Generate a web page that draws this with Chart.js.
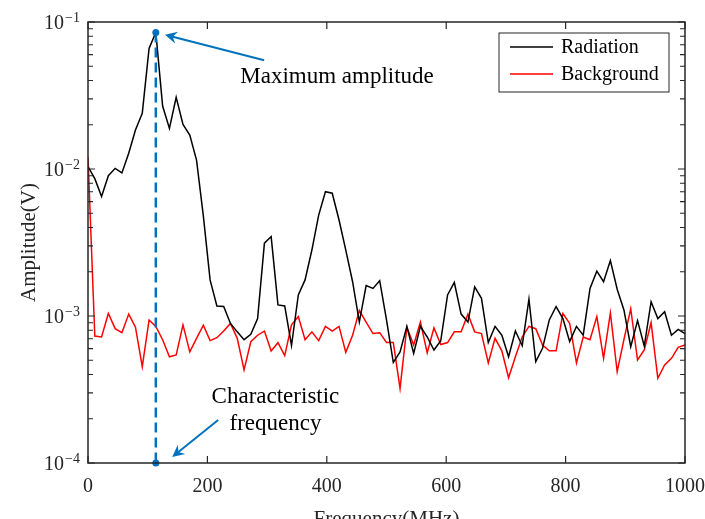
<!DOCTYPE html>
<html>
<head>
<meta charset="utf-8">
<script src="https://cdn.jsdelivr.net/npm/chart.js@4.4.1/dist/chart.umd.min.js"></script>
<style>
  html, body { margin: 0; padding: 0; background: #fff; }
</style>
</head>
<body>
<canvas id="spectrumChart" width="705" height="519"></canvas>
<script>
// --- Data ---
const frequency = [
  0, 11.4, 22.7, 34.1, 45.5, 56.8, 68.2, 79.5, 90.9, 102.3,
  113.6, 125.0, 136.4, 147.7, 159.1, 170.5, 181.8, 193.2, 204.5, 215.9,
  227.3, 238.6, 250.0, 261.4, 272.7, 284.1, 295.5, 306.8, 318.2, 329.5,
  340.9, 352.3, 363.6, 375.0, 386.4, 397.7, 409.1, 420.5, 431.8, 443.2,
  454.5, 465.9, 477.3, 488.6, 500.0, 511.4, 522.7, 534.1, 545.5, 556.8,
  568.2, 579.5, 590.9, 602.3, 613.6, 625.0, 636.4, 647.7, 659.1, 670.5,
  681.8, 693.2, 704.5, 715.9, 727.3, 738.6, 750.0, 761.4, 772.7, 784.1,
  795.5, 806.8, 818.2, 829.5, 840.9, 852.3, 863.6, 875.0, 886.4, 897.7,
  909.1, 920.5, 931.8, 943.2, 954.5, 965.9, 977.3, 988.6, 1000
];

const radiation = [
  0.0104, 0.0086, 0.0065, 0.0090, 0.0101, 0.0094, 0.0128, 0.0184, 0.0239, 0.066,
  0.085, 0.0268, 0.0189, 0.0307, 0.0201, 0.0170, 0.0115, 0.0048, 0.00176, 0.00117,
  0.00116, 0.00089, 0.00078, 0.00069, 0.00075, 0.00096, 0.00313, 0.00347, 0.00119, 0.00117,
  0.00063, 0.00139, 0.00176, 0.00281, 0.00486, 0.00701, 0.00684, 0.0045, 0.00281, 0.00171,
  0.00091, 0.00161, 0.00154, 0.00174, 0.00094, 0.000484, 0.00057, 0.00085, 0.000557, 0.00085,
  0.00072, 0.000587, 0.00068, 0.00139, 0.00169, 0.00103, 0.00091, 0.00158, 0.00132, 0.00066,
  0.00085, 0.00074, 0.000528, 0.00079, 0.000628, 0.0013, 0.000489, 0.000603, 0.00094, 0.00116,
  0.00096, 0.00067, 0.00085, 0.00074, 0.00154, 0.00202, 0.00171, 0.00238, 0.00152, 0.0011,
  0.000618, 0.00093, 0.000625, 0.00125, 0.00096, 0.00107, 0.00074, 0.00081, 0.00076
];

const background = [
  0.0121, 0.00073, 0.00072, 0.00104, 0.00082, 0.00077, 0.00103, 0.00084, 0.000452, 0.00094,
  0.00085, 0.00069, 0.000528, 0.000543, 0.00087, 0.00057, 0.000705, 0.000865, 0.00068, 0.000712,
  0.00079, 0.00089, 0.000705, 0.00043, 0.000668, 0.00074, 0.00079, 0.000578, 0.000658, 0.000537,
  0.00087, 0.00099, 0.00069, 0.00078, 0.00068, 0.00085, 0.00079, 0.00085, 0.000566, 0.00074,
  0.00109, 0.00091, 0.00076, 0.00077, 0.00066, 0.00066, 0.000322, 0.00084, 0.000635, 0.00091,
  0.000562, 0.00083, 0.00064, 0.00066, 0.00078, 0.00078, 0.00103, 0.00078, 0.00076, 0.00048,
  0.000705, 0.00058, 0.00038, 0.000528, 0.00072, 0.00085, 0.00082, 0.000635, 0.00058, 0.00058,
  0.00104, 0.00089, 0.00048, 0.00072, 0.00069, 0.00099, 0.000515, 0.00105, 0.000418, 0.00069,
  0.00112, 0.000502, 0.000587, 0.0009, 0.000377, 0.000464, 0.000515, 0.000612, 0.000635
];

const seriesLabels = ["Radiation", "Background"];
const xTickValues = [0, 200, 400, 600, 800, 1000];
const yTickValues = [1e-4, 1e-3, 1e-2, 1e-1];
const yTickExponents = ["-4", "-3", "-2", "-1"];

const frameColor = "#262626";
const noteBlue = "#0072BD";
const serif = "'Liberation Serif', 'Times New Roman', serif";

// arrow with a swept-back head (like matlab's vback2)
function drawArrow(ctx, x0, y0, x1, y1) {
  const ang = Math.atan2(y1 - y0, x1 - x0);
  const len = 12, half = 6, notch = 4;
  const cos = Math.cos(ang), sin = Math.sin(ang);
  const bx = x1 - len * cos, by = y1 - len * sin;
  ctx.beginPath();
  ctx.moveTo(x0, y0);
  ctx.lineTo(x1 - (len - notch) * cos, y1 - (len - notch) * sin);
  ctx.stroke();
  ctx.beginPath();
  ctx.moveTo(x1, y1);
  ctx.lineTo(bx + half * sin, by - half * cos);
  ctx.lineTo(x1 - (len - notch) * cos, y1 - (len - notch) * sin);
  ctx.lineTo(bx - half * sin, by + half * cos);
  ctx.closePath();
  ctx.fill();
}

const framePlugin = {
  id: "matlabFrame",
  afterDatasetsDraw(chart) {
    const ctx = chart.ctx;
    const area = chart.chartArea;
    const xs = chart.scales.x;
    const ys = chart.scales.y;
    ctx.save();

    // --- Peak marker and dashed drop line ---
    const peakIdx = radiation.indexOf(Math.max(...radiation));
    const px = xs.getPixelForValue(frequency[peakIdx]);
    const py = ys.getPixelForValue(radiation[peakIdx]);
    const pBottom = ys.getPixelForValue(ys.min);
    ctx.strokeStyle = noteBlue;
    ctx.fillStyle = noteBlue;
    ctx.lineWidth = 2.5;
    ctx.setLineDash([10, 5]);
    ctx.beginPath();
    ctx.moveTo(px, py);
    ctx.lineTo(px, pBottom);
    ctx.stroke();
    ctx.setLineDash([]);
    [py, pBottom].forEach((y) => {
      ctx.beginPath();
      ctx.arc(px, y, 3.5, 0, Math.PI * 2);
      ctx.fill();
    });

    // --- Annotation arrows and texts ---
    ctx.lineWidth = 2;
    drawArrow(ctx, xs.getPixelForValue(295), ys.getPixelForValue(0.055),
      xs.getPixelForValue(129), ys.getPixelForValue(0.082));
    drawArrow(ctx, xs.getPixelForValue(218), ys.getPixelForValue(0.000196),
      xs.getPixelForValue(141), ys.getPixelForValue(0.00011));

    ctx.fillStyle = "#000";
    ctx.font = "23px " + serif;
    ctx.textBaseline = "alphabetic";
    ctx.textAlign = "left";
    ctx.fillText("Maximum amplitude", xs.getPixelForValue(255), ys.getPixelForValue(0.0385));
    ctx.textAlign = "center";
    ctx.fillText("Characteristic", xs.getPixelForValue(314), ys.getPixelForValue(0.000256));
    ctx.fillText("frequency", xs.getPixelForValue(314), ys.getPixelForValue(0.000167));

    // --- Box ---
    ctx.strokeStyle = frameColor;
    ctx.lineWidth = 1.5;
    ctx.strokeRect(area.left, area.top, area.right - area.left, area.bottom - area.top);

    // --- X ticks (bottom and top, inward) ---
    ctx.lineWidth = 1.2;
    ctx.beginPath();
    xTickValues.forEach((v) => {
      const x = xs.getPixelForValue(v);
      ctx.moveTo(x, area.bottom);
      ctx.lineTo(x, area.bottom - 7);
      ctx.moveTo(x, area.top);
      ctx.lineTo(x, area.top + 7);
    });
    // --- Y ticks, major + minor on the log axis ---
    for (let e = -4; e <= -1; e++) {
      for (let m = 1; m <= 9; m++) {
        const v = m * Math.pow(10, e);
        if (v < ys.min * 0.999 || v > ys.max * 1.001) continue;
        const y = ys.getPixelForValue(v);
        const len = m === 1 ? 7 : 5;
        ctx.moveTo(area.left, y);
        ctx.lineTo(area.left + len, y);
        ctx.moveTo(area.right, y);
        ctx.lineTo(area.right - len, y);
      }
    }
    ctx.stroke();

    // --- Tick labels ---
    ctx.fillStyle = frameColor;
    ctx.font = "20px " + serif;
    ctx.textAlign = "center";
    ctx.textBaseline = "alphabetic";
    xTickValues.forEach((v) => {
      ctx.fillText(String(v), xs.getPixelForValue(v), area.bottom + 29);
    });

    yTickValues.forEach((v, i) => {
      const y = ys.getPixelForValue(v);
      ctx.font = "14px " + serif;
      ctx.textAlign = "right";
      const expText = yTickExponents[i].replace("-", "\u2212");
      ctx.fillText(expText, area.left - 8, y);
      const expWidth = ctx.measureText(expText).width;
      ctx.font = "20px " + serif;
      ctx.fillText("10", area.left - 9 - expWidth, y + 7);
    });

    // --- Axis titles ---
    ctx.fillStyle = frameColor;
    ctx.font = "21px " + serif;
    ctx.textAlign = "center";
    ctx.fillText("Frequency(MHz)", (area.left + area.right) / 2, area.bottom + 62);
    ctx.save();
    ctx.translate(29, (area.top + area.bottom) / 2);
    ctx.rotate(-Math.PI / 2);
    ctx.textBaseline = "middle";
    ctx.fillText("Amplitude(V)", 0, 0);
    ctx.restore();

    // --- Legend box (top right, inside axes) ---
    const lgW = 170, lgH = 59;
    const lgLeft = area.right - 16 - lgW;
    const lgTop = area.top + 11;
    ctx.fillStyle = "#fff";
    ctx.fillRect(lgLeft, lgTop, lgW, lgH);
    ctx.strokeStyle = frameColor;
    ctx.lineWidth = 1;
    ctx.strokeRect(lgLeft, lgTop, lgW, lgH);
    ctx.font = "20px " + serif;
    ctx.textAlign = "left";
    ctx.textBaseline = "middle";
    chart.data.datasets.forEach((ds, i) => {
      const rowY = lgTop + 14 + i * 27;
      ctx.strokeStyle = ds.borderColor;
      ctx.lineWidth = 1.5;
      ctx.beginPath();
      ctx.moveTo(lgLeft + 11, rowY);
      ctx.lineTo(lgLeft + 54, rowY);
      ctx.stroke();
      ctx.fillStyle = "#000";
      ctx.fillText(ds.label, lgLeft + 62, rowY + 1);
    });

    ctx.restore();
  },
};

const ctx = document.getElementById("spectrumChart");
new Chart(ctx, {
  type: "line",
  data: {
    datasets: [
      {
        label: seriesLabels[0],
        data: frequency.map((f, i) => ({ x: f, y: radiation[i] })),
        borderColor: "#000000",
        borderWidth: 1.5,
        pointRadius: 0,
        tension: 0,
      },
      {
        label: seriesLabels[1],
        data: frequency.map((f, i) => ({ x: f, y: background[i] })),
        borderColor: "#FF0000",
        borderWidth: 1.5,
        pointRadius: 0,
        tension: 0,
      },
    ],
  },
  options: {
    responsive: false,
    animation: false,
    devicePixelRatio: 1,
    layout: { padding: { left: 88, right: 20, top: 22, bottom: 56 } },
    scales: {
      x: { type: "linear", min: 0, max: 1000, display: false },
      y: { type: "logarithmic", min: 1e-4, max: 1e-1, display: false },
    },
    plugins: {
      legend: { display: false },
      tooltip: { enabled: false },
    },
  },
  plugins: [framePlugin],
});
</script>
</body>
</html>
